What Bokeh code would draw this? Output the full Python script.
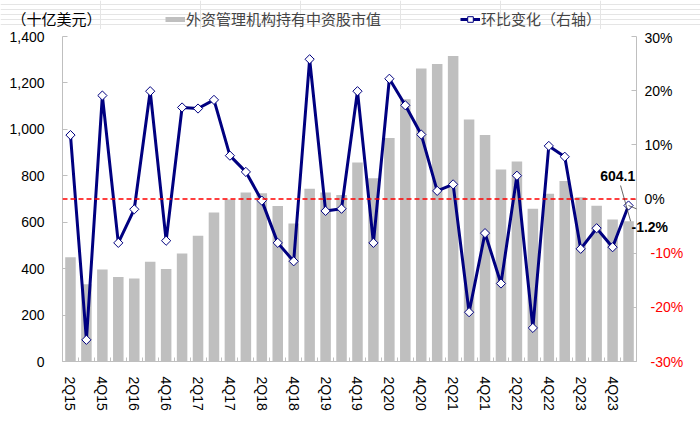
import numpy as np
from bokeh.plotting import figure
from bokeh.layouts import column
from bokeh.models import (Range1d, LinearAxis, FixedTicker, NumeralTickFormatter, Span,
                          Label, Legend, LegendItem, Arrow, ColumnDataSource)
from bokeh.embed import file_html
from bokeh.resources import INLINE

quarters = ["2Q15", "3Q15", "4Q15",
            "1Q16", "2Q16", "3Q16", "4Q16",
            "1Q17", "2Q17", "3Q17", "4Q17",
            "1Q18", "2Q18", "3Q18", "4Q18",
            "1Q19", "2Q19", "3Q19", "4Q19",
            "1Q20", "2Q20", "3Q20", "4Q20",
            "1Q21", "2Q21", "3Q21", "4Q21",
            "1Q22", "2Q22", "3Q22", "4Q22",
            "1Q23", "2Q23", "3Q23", "4Q23",
            "1Q24"]
holdings = [449, 333, 396, 364, 358, 430, 399, 465, 542, 642, 698, 728, 725, 670, 594,
            744, 728, 717, 857, 789, 963, 1130, 1262, 1282, 1316, 1042, 976, 827, 862,
            658, 723, 778, 708, 671, 612, 604.1]
qoq = [11.8, -26.0, 19.1, -8.1, -1.9, 19.9, -7.7, 16.9, 16.7, 18.3, 8.0, 5.0, -0.3, -8.1,
       -11.5, 25.8, -2.2, -1.8, 19.9, -8.1, 22.2, 17.3, 11.9, 1.5, 2.7, -20.9, -6.3, -15.6,
       4.3, -23.8, 9.8, 7.8, -9.2, -5.4, -8.9, -1.2]
left_ticks = [0, 200, 400, 600, 800, 1000, 1200, 1400]
right_ticks = [-30, -20, -10, 0, 10, 20, 30]
right_tick_labels = ["-30%", "-20%", "-10%", "0%", "10%", "20%", "30%"]
bar_name = "外资管理机构持有中资股市值"
line_name = "环比变化（右轴）"
unit_text = "（十亿美元）"

NUM_FONT = "Liberation Sans"
CJK_FONT = "Noto Sans CJK SC"
GRAY_AXIS = "#BFBFBF"
BAR_GRAY = "#BFBFBF"
NAVY = "#000080"

n = len(quarters)
idx = list(range(n))
last = n - 1
src = ColumnDataSource(dict(x=idx, holdings=holdings, qoq=qoq))

HEADER_H = 29

# ---------------- header with unit note and legend ----------------
hdr = figure(width=700, height=HEADER_H, output_backend="svg", toolbar_location=None,
             x_range=Range1d(0, 700), y_range=Range1d(0, HEADER_H),
             x_axis_location=None, y_axis_location=None,
             min_border_left=0, min_border_right=0, min_border_top=0, min_border_bottom=0)
hdr.outline_line_color = None
hdr.background_fill_color = "white"
hdr.border_fill_color = "white"

hdr.add_layout(Label(x=11, y=HEADER_H - 17.5, x_units="screen", y_units="screen", text=unit_text,
                     text_font=CJK_FONT, text_font_size="15px", text_color="black",
                     text_align="left", text_baseline="middle"))

# legend proxies (one invisible point each, so the legend draws their glyphs)
bar_proxy = hdr.line(x=[np.nan], y=[np.nan], line_color=BAR_GRAY, line_width=5)
line_proxy = hdr.line(x=[np.nan], y=[np.nan], line_color=NAVY, line_width=3)
mk_proxy = hdr.scatter(x=[np.nan], y=[np.nan], marker="square", angle=np.pi / 4, size=6.5,
                       fill_color="white", line_color=NAVY, line_width=1)
legend = Legend(items=[LegendItem(label=bar_name, renderers=[bar_proxy]),
                       LegendItem(label=line_name, renderers=[line_proxy, mk_proxy])],
                location=(165, 0), orientation="horizontal", glyph_width=20, glyph_height=14,
                label_height=17, label_standoff=1, spacing=79, padding=0, margin=0,
                border_line_color=None, background_fill_alpha=0,
                label_text_font=CJK_FONT, label_text_font_size="15px")
hdr.add_layout(legend)

# ---------------- main chart ----------------
p = figure(width=700, height=421 - HEADER_H, output_backend="svg", toolbar_location=None,
           x_range=Range1d(-0.5, n - 0.5), y_range=Range1d(left_ticks[0], left_ticks[-1]),
           min_border_left=62, min_border_right=64, min_border_top=36 - HEADER_H,
           min_border_bottom=60)
p.extra_y_ranges = {"pct": Range1d(right_ticks[0], right_ticks[-1])}
p.outline_line_color = None
p.xgrid.grid_line_color = None
p.ygrid.grid_line_color = None
p.background_fill_color = "white"
p.border_fill_color = "white"

for fig in (hdr, p):
    try:
        fig.frame_align = False
    except AttributeError:
        pass

p.vbar(x="x", top="holdings", width=0.66, fill_color=BAR_GRAY, line_color=None, source=src)

p.add_layout(Span(location=0, dimension="width", y_range_name="pct", line_color="#FF0000",
                  line_dash="5 3", line_width=1.6))

p.line(x="x", y="qoq", y_range_name="pct", line_color=NAVY, line_width=3, source=src)
p.scatter(x="x", y="qoq", y_range_name="pct", marker="square", angle=np.pi / 4, size=6.5,
          fill_color="white", line_color=NAVY, line_width=1, source=src)

# x axis
xa = p.xaxis[0]
xa.ticker = FixedTicker(ticks=idx[::2], minor_ticks=[i - 0.5 for i in range(n + 1)])
xa.major_label_overrides = {i: quarters[i] for i in idx[::2]}
xa.major_label_orientation = "vertical"
xa.major_tick_line_color = None
xa.minor_tick_in = 4
xa.minor_tick_out = 0
xa.minor_tick_line_color = GRAY_AXIS
xa.axis_line_color = GRAY_AXIS
xa.major_label_text_font = NUM_FONT
xa.major_label_text_font_size = "14px"
xa.major_label_text_color = "black"
xa.major_label_standoff = 9

# left axis
ya = p.yaxis[0]
ya.ticker = FixedTicker(ticks=left_ticks)
ya.formatter = NumeralTickFormatter(format="0,0")
ya.major_tick_in = 5
ya.major_tick_out = 0
ya.minor_tick_line_color = None
ya.major_tick_line_color = GRAY_AXIS
ya.axis_line_color = GRAY_AXIS
ya.major_label_text_font = NUM_FONT
ya.major_label_text_font_size = "14px"
ya.major_label_text_color = "black"
ya.major_label_standoff = 18


def side_axis(ticks, labels, color, standoff, style="normal", rule=False, minor=None):
    ax = LinearAxis(y_range_name="pct",
                    ticker=FixedTicker(ticks=ticks, minor_ticks=minor or []))
    ax.major_label_overrides = dict(zip(ticks, labels))
    ax.major_tick_line_color = None
    ax.major_tick_in = 0
    ax.major_tick_out = 0
    ax.minor_tick_in = 5
    ax.minor_tick_out = 0
    ax.minor_tick_line_color = GRAY_AXIS if minor else None
    ax.axis_line_color = GRAY_AXIS if rule else None
    ax.major_label_text_font = NUM_FONT
    ax.major_label_text_font_size = "14px"
    ax.major_label_text_font_style = style
    ax.major_label_text_color = color
    ax.major_label_standoff = standoff
    p.add_layout(ax, "right")
    return ax


# right axis line + ticks; it also carries the data label of the last change
lab_pos = round(qoq[last] - 3.9, 2)
side_axis([lab_pos], [f"{qoq[last]:.1f}%"], "black", -5, style="bold", rule=True, minor=right_ticks)
pos = [(t, l) for t, l in zip(right_ticks, right_tick_labels) if t >= 0]
neg = [(t, l) for t, l in zip(right_ticks, right_tick_labels) if t < 0]
side_axis([t for t, _ in pos], [l for _, l in pos], "black", -27)
side_axis([t for t, _ in neg], [l for _, l in neg], "#FF0000", -25)

# data label for the last bar
p.add_layout(Label(x=last - 0.68, y=holdings[last] + 197, text=f"{holdings[last]:.1f}",
                   text_font=NUM_FONT, text_font_size="14px", text_font_style="bold",
                   text_align="center", text_baseline="middle", text_color="black"))
p.add_layout(Arrow(end=None, x_start=last - 0.5, y_start=holdings[last] + 154,
                   x_end=last + 0.13, y_end=holdings[last], line_color="#404040", line_width=0.8))
p.add_layout(Arrow(end=None, x_start=last, y_start=qoq[last], x_end=last + 1.5, y_end=qoq[last] - 1.85,
                   y_range_name="pct", line_color="#404040", line_width=0.8))

layout = column(hdr, p, spacing=0)
open("out.html", "w").write(file_html(layout, INLINE))
